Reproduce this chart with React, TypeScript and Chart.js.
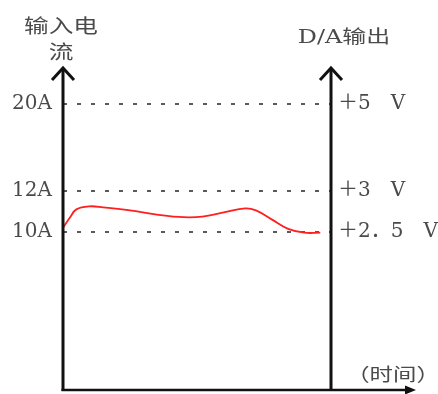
import React, { useEffect, useRef } from 'react';
import { Chart, registerables, LinearScale } from 'chart.js';

Chart.register(...registerables);

// ---- data ----
const timePoints = [0, 2.6, 5, 10, 15, 25, 35, 45, 52, 60, 68, 72, 78, 84, 90, 96];
const currentValues = [10.2, 10.7, 11.1, 11.25, 11.2, 11.05, 10.85, 10.72, 10.75, 10.95, 11.15, 11.05, 10.6, 10.15, 9.95, 9.95];
const currentTicks = [10, 12, 20];
const currentLabels = ['10A', '12A', '20A'];
const voltageLabels = ['＋2．5\u3000V', '＋3\u3000V', '＋5\u3000V'];
// schematic (non-linear) vertical axis: value levels and where they sit in the plot height
const axisLevels = [0, 10, 12, 20, 24];
const levelFractions = [0, 0.491, 0.618, 0.888, 1];

function interp(v: number, xs: number[], ys: number[]) {
  if (v <= xs[0]) return ys[0] + (v - xs[0]) * (ys[1] - ys[0]) / (xs[1] - xs[0]);
  for (let i = 1; i < xs.length; i++) {
    if (v <= xs[i]) {
      return ys[i - 1] + (v - xs[i - 1]) * (ys[i] - ys[i - 1]) / (xs[i] - xs[i - 1]);
    }
  }
  const n = xs.length - 1;
  return ys[n] + (v - xs[n]) * (ys[n] - ys[n - 1]) / (xs[n] - xs[n - 1]);
}

class PiecewiseScale extends LinearScale {
  static id = 'piecewise';
  getPixelForValue(value: number) {
    if (value === null || value === undefined) return NaN;
    const f = interp(value, axisLevels, levelFractions);
    return this.bottom - f * (this.bottom - this.top);
  }
  getValueForPixel(pixel: number) {
    const f = (this.bottom - pixel) / (this.bottom - this.top);
    return interp(f, levelFractions, axisLevels);
  }
}
Chart.register(PiecewiseScale as any);

const TEXT_COLOR = '#4a4a4a';
const CJK = '"Noto Sans CJK SC"';

function drawText(ctx: CanvasRenderingContext2D, text: string, x: number, y: number, font: string, sx: number, align: CanvasTextAlign) {
  ctx.save();
  ctx.translate(x, y);
  ctx.scale(sx, 1);
  ctx.font = font;
  ctx.textAlign = align;
  ctx.textBaseline = 'middle';
  ctx.fillStyle = TEXT_COLOR;
  ctx.fillText(text, 0, 0);
  ctx.restore();
}

const axesPlugin = {
  id: 'schematicAxes',
  afterDraw(chart: any) {
    const { ctx, chartArea } = chart;
    const { left, right, top, bottom } = chartArea;
    ctx.save();
    ctx.strokeStyle = '#111';
    ctx.fillStyle = '#111';
    ctx.lineCap = 'butt';
    // vertical axes with open arrowheads
    ctx.lineWidth = 3;
    for (const x of [left, right]) {
      ctx.beginPath();
      ctx.moveTo(x, bottom + 1);
      ctx.lineTo(x, top + 1);
      ctx.stroke();
      ctx.beginPath();
      ctx.moveTo(x - 11, top + 12);
      ctx.lineTo(x, top);
      ctx.lineTo(x + 11, top + 12);
      ctx.stroke();
    }
    // time axis
    ctx.lineWidth = 2.5;
    ctx.beginPath();
    ctx.moveTo(left - 1.5, bottom);
    ctx.lineTo(right + 76, bottom);
    ctx.stroke();
    ctx.beginPath();
    ctx.moveTo(right + 85, bottom);
    ctx.lineTo(right + 74, bottom - 4.5);
    ctx.lineTo(right + 74, bottom + 4.5);
    ctx.closePath();
    ctx.fill();
    ctx.restore();

    // titles
    drawText(ctx, '输入电', left - 2, 26, `19px ${CJK}`, 1.3, 'center');
    drawText(ctx, '流', left - 2, 52, `19px ${CJK}`, 1.3, 'center');
    drawText(ctx, 'D/A输出', right + 13, 38, `18px "DejaVu Serif", ${CJK}`, 1.33, 'center');
    drawText(ctx, '（时间）', right + 62, 374, `18px ${CJK}`, 1.3, 'center');
  },
};

export default function App() {
  const ref = useRef<HTMLCanvasElement | null>(null);
  useEffect(() => {
    const canvas = ref.current;
    if (!canvas) return;
    const tickFont = { family: '"DejaVu Serif", "Noto Sans CJK SC"', size: 20 };
    const chart = new Chart(canvas, {
      type: 'line',
      data: {
        datasets: [
          {
            data: timePoints.map((t, i) => ({ x: t, y: currentValues[i] })),
            borderColor: '#ff1f1f',
            borderWidth: 1.8,
            pointRadius: 0,
            tension: 0.4,
            fill: false,
            yAxisID: 'y',
          },
        ],
      },
      options: {
        animation: false,
        responsive: false,
        layout: { padding: { top: 68, bottom: 4, left: 0, right: 0 } },
        plugins: { legend: { display: false }, tooltip: { enabled: false } },
        scales: {
          x: { type: 'linear', min: 0, max: 100, display: false },
          y: {
            type: 'piecewise',
            position: 'left',
            min: 0,
            max: 24,
            afterBuildTicks: (s: any) => {
              s.ticks = currentTicks.map((v) => ({ value: v }));
            },
            afterFit: (s: any) => {
              s.width = 63;
              s.paddingTop = 0;
              s.paddingBottom = 0;
            },
            ticks: {
              autoSkip: false,
              padding: 11,
              color: TEXT_COLOR,
              font: tickFont,
              callback: (_v: any, i: number) => currentLabels[i],
            },
            grid: { color: '#5a5a5a', lineWidth: 2, drawTicks: false },
            border: { display: false, dash: [4, 10] },
          },
          y2: {
            type: 'piecewise',
            position: 'right',
            min: 0,
            max: 24,
            afterBuildTicks: (s: any) => {
              s.ticks = currentTicks.map((v) => ({ value: v }));
            },
            afterFit: (s: any) => {
              s.width = 107;
              s.paddingTop = 0;
              s.paddingBottom = 0;
            },
            ticks: {
              autoSkip: false,
              padding: 7,
              color: TEXT_COLOR,
              font: tickFont,
              callback: (_v: any, i: number) => voltageLabels[i],
            },
            grid: { display: false, drawTicks: false },
            border: { display: false },
          },
        },
      } as any,
      plugins: [axesPlugin],
    });
    return () => chart.destroy();
  }, []);
  return (
    <div style={{ position: 'absolute', left: 0, top: 0, width: 438, height: 394, background: '#fff' }}>
      <canvas ref={ref} width={438} height={394} />
    </div>
  );
}
